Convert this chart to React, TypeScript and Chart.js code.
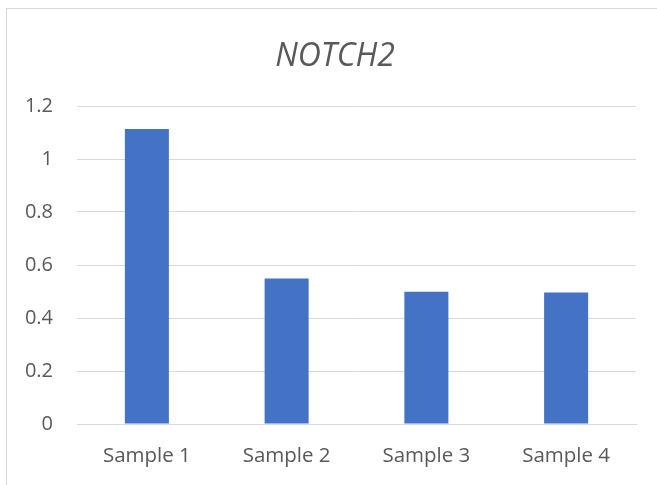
import React, { useEffect, useRef } from "react";
import { Chart, registerables } from "chart.js";

Chart.register(...registerables);

const categories = ["Sample 1", "Sample 2", "Sample 3", "Sample 4"];
const values = [1.113, 0.549, 0.499, 0.496];
const yTicks = [0, 0.2, 0.4, 0.6, 0.8, 1, 1.2];
const titleText = "NOTCH2";

const titlePlugin = {
  id: "centerTitle",
  afterDraw(chart: any) {
    const ctx = chart.ctx;
    ctx.save();
    ctx.fillStyle = "#595959";
    ctx.font = "italic normal 32px 'Open Sans'";
    ctx.textAlign = "center";
    ctx.textBaseline = "middle";
    ctx.fillText(titleText, chart.width / 2 + 3, 48);
    ctx.restore();
  },
};

export default function App() {
  const ref = useRef<HTMLCanvasElement | null>(null);

  useEffect(() => {
    document.body.style.overflow = "hidden";
    const canvas = ref.current;
    if (!canvas) return;
    const chart = new Chart(canvas, {
      type: "bar",
      data: {
        labels: categories,
        datasets: [
          {
            data: values,
            backgroundColor: "#4472C4",
            borderWidth: 0,
            barPercentage: 0.63,
            categoryPercentage: 0.5,
          },
        ],
      },
      options: {
        responsive: false,
        animation: false,
        layout: { padding: { top: 97, right: 21, left: 0, bottom: 0 } },
        plugins: {
          legend: { display: false },
          tooltip: { enabled: false },
          title: { display: false },
        },
        scales: {
          x: {
            grid: { display: false, drawTicks: false },
            border: { display: true, color: "#d9d9d9", width: 1 },
            ticks: {
              color: "#595959",
              font: { family: "'Open Sans'", size: 20.5 },
              padding: 20,
            },
            afterFit: (s: any) => {
              s.height = 61;
            },
          },
          y: {
            min: 0,
            max: 1.2,
            afterBuildTicks: (s: any) => {
              s.ticks = yTicks.map((v) => ({ value: v }));
            },
            grid: { color: "#d9d9d9", lineWidth: 1, drawTicks: false },
            border: { display: false },
            ticks: {
              color: "#595959",
              font: { family: "'Open Sans'", size: 20 },
              padding: 24,
              callback: (v: any) => String(Math.round(Number(v) * 10) / 10),
            },
            afterFit: (s: any) => {
              s.width = 70;
            },
          },
        },
      },
      plugins: [titlePlugin],
    });
    return () => chart.destroy();
  }, []);

  return (
    <div
      style={{
        position: "fixed",
        left: 6,
        top: 8,
        width: 700,
        height: 520,
        border: "1px solid #d9d9d9",
        boxSizing: "border-box",
        background: "#fff",
      }}
    >
      <canvas ref={ref} width={650} height={476} style={{ display: "block", width: 650, height: 476 }} />
    </div>
  );
}
